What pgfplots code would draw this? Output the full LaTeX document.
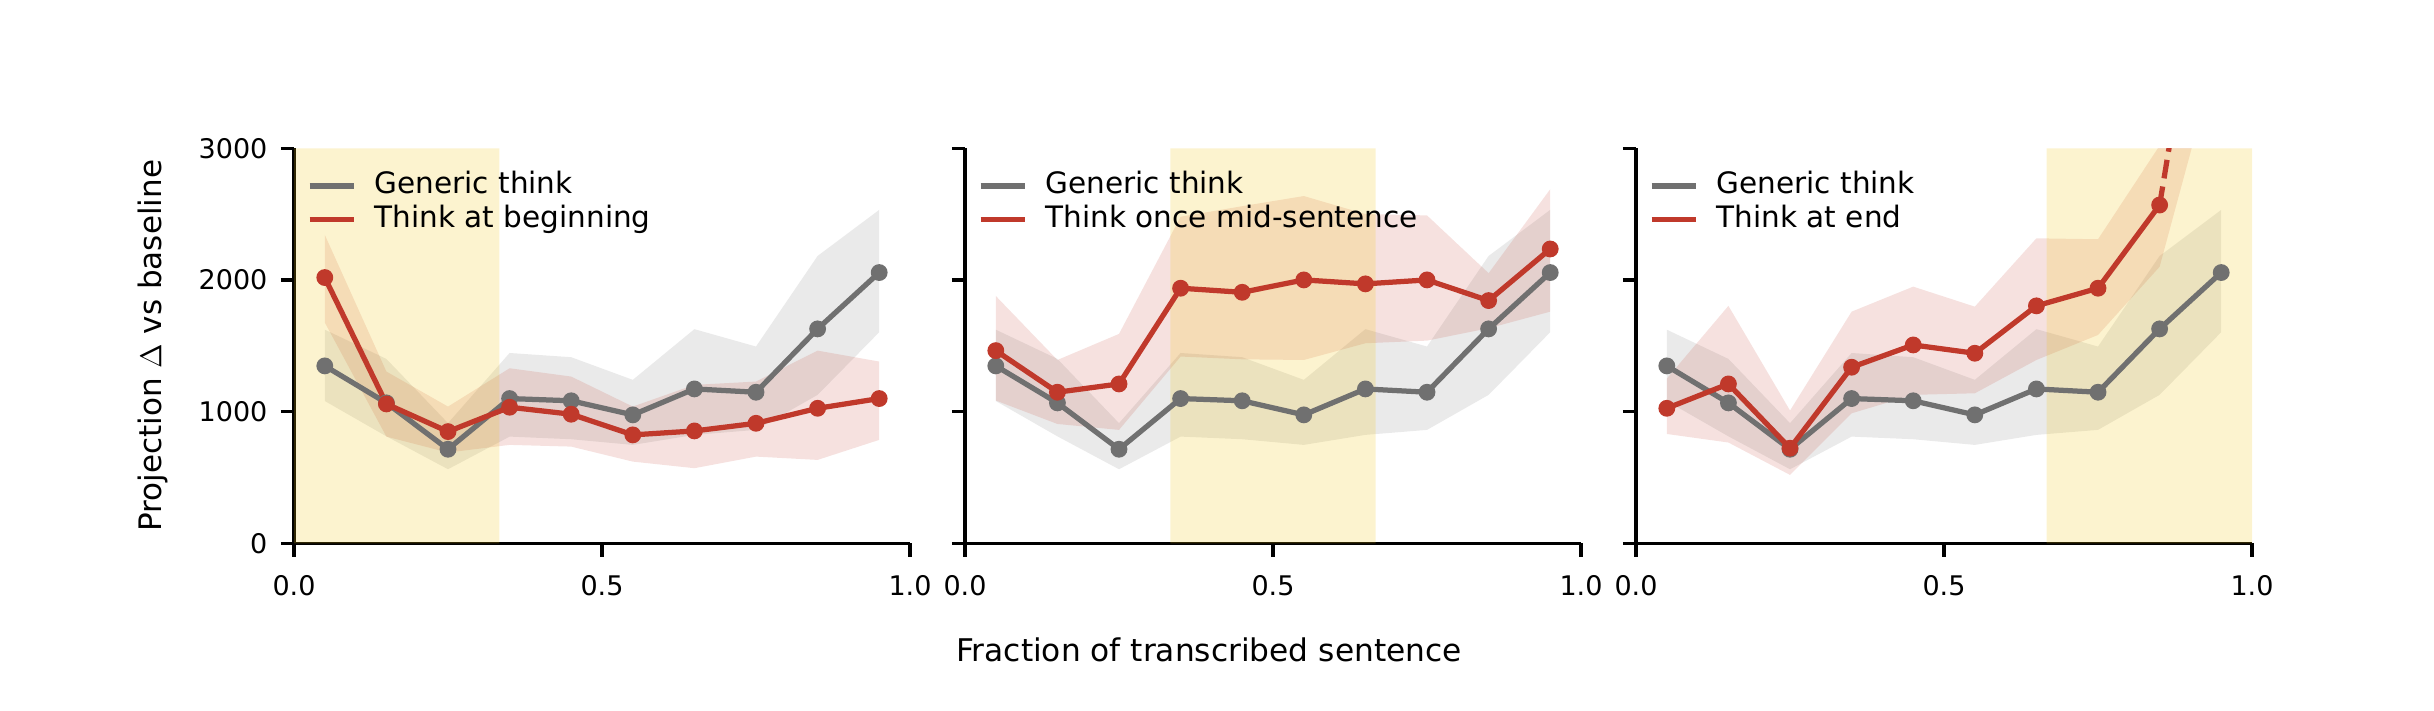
\documentclass[border=0pt]{standalone}
\usepackage{pgfplots}
\pgfplotsset{compat=1.18}
\usepackage{pgfplotstable}
\usepgfplotslibrary{fillbetween}
\usepackage{fontspec}
\setmainfont{DejaVu Sans}
\definecolor{gline}{HTML}{707070}
\definecolor{rline}{HTML}{C0392B}
\definecolor{ybg}{HTML}{F1C40F}

\pgfplotstableread{
x mean lo hi
0.05 1347 1080 1622
0.15 1066 812 1400
0.25 714 562 912
0.35 1099 810 1445
0.45 1082 790 1413
0.55 975 747 1241
0.65 1172 823 1626
0.75 1147 861 1494
0.85 1628 1127 2182
0.95 2056 1603 2532
}\gen

\pgfplotstableread{
x mean lo hi
0.05 2018 1676 2342
0.15 1058 810 1304
0.25 848 689 1038
0.35 1033 747 1329
0.45 980 734 1266
0.55 823 620 1038
0.65 853 570 1203
0.75 911 658 1228
0.85 1025 633 1463
0.95 1099 785 1380
}\beg

\pgfplotstableread{
x mean lo hi
0.05 1463 1084 1878
0.15 1147 906 1392
0.25 1210 861 1590
0.35 1937 1418 2480
0.45 1906 1397 2560
0.55 2000 1392 2637
0.65 1970 1519 2500
0.75 2000 1539 2490
0.85 1843 1633 2051
0.95 2235 1759 2689
}\mid

\pgfplotstableread{
x mean lo hi
0.05 1025 830 1250
0.15 1210 765 1803
0.25 722 519 1008
0.35 1337 987 1759
0.45 1506 1127 1949
0.55 1443 1139 1797
0.65 1803 1392 2316
0.75 1937 1582 2309
0.85 2569 2100 3020
0.95 5400 3830 7000
}\fin

\pgfplotsset{
  panel/.style={
    at={(#1pt,66.7pt)}, anchor=south west,
    scale only axis, width=246.4pt, height=158pt,
    xmin=0, xmax=1, ymin=0, ymax=3000,
    axis x line*=bottom, axis y line*=left,
    axis line style={line width=1.3pt, -},
    every tick/.style={line width=1.3pt, black},
    tick align=outside, major tick length=5.3pt,
    xtick={0,0.5,1}, ytick={0,1000,2000,3000},
    /pgf/number format/assume math mode=true,
    xticklabel style={yshift=-4.2pt, /pgf/number format/.cd, fixed, fixed zerofill, precision=1},
    yticklabel style={xshift=-1.8pt, /pgf/number format/1000 sep={}},
    tick label style={font=\fontsize{10.8}{13}\selectfont},
    legend cell align=left,
    legend style={at={(0,1)}, anchor=north west, xshift=5pt, yshift=-9.4pt,
      draw=none, fill=none, inner sep=0pt, row sep=2.5pt,
      font=\fontsize{11.8}{13.6}\selectfont,
      nodes={inner sep=0pt, text height=8.4pt, text depth=2.6pt},
      /tikz/every odd column/.append style={column sep=7.4pt}},
    clip=true,
  },
  band/.style={fill=#1, fill opacity=0.15, draw=none, forget plot},
  yband/.style={fill=ybg, fill opacity=0.2, draw=none, forget plot},
  mline/.style={color=#1, line width=2.1pt, mark=*, mark size=2.3pt, mark options={solid, fill=#1}},
}

\begin{document}
\begin{tikzpicture}
\path (0pt,0pt) rectangle (973.6pt,284pt);

% ---------- Panel 1 ----------
\begin{axis}[panel=117.6,
  legend image code/.code={\draw[#1, line width=2.1pt] (0pt,0pt) -- (17.6pt,0pt);},
  ylabel={Projection $\Delta$ vs baseline},
  ylabel style={at={(axis description cs:-0.229,0.5)}, anchor=center, font=\fontsize{12.4}{14}\selectfont},
]
\addplot[yband] coordinates {(0,0) (0.3333,0) (0.3333,3000) (0,3000)} \closedcycle;
\addplot[name path=gU, draw=none, forget plot] table[x=x,y=hi]{\gen};
\addplot[name path=gL, draw=none, forget plot] table[x=x,y=lo]{\gen};
\addplot[band=gline] fill between[of=gU and gL];
\addplot[name path=rU, draw=none, forget plot] table[x=x,y=hi]{\beg};
\addplot[name path=rL, draw=none, forget plot] table[x=x,y=lo]{\beg};
\addplot[band=rline] fill between[of=rU and rL];
\addplot[mline=gline] table[x=x,y=mean]{\gen};
\addlegendentry{Generic think}
\addplot[mline=rline] table[x=x,y=mean]{\beg};
\addlegendentry{Think at beginning}
\end{axis}

% ---------- Panel 2 ----------
\begin{axis}[panel=386,
  yticklabels={},
  legend image code/.code={\draw[#1, line width=2.1pt] (0pt,0pt) -- (17.6pt,0pt);},
  xlabel={Fraction of transcribed sentence},
  xlabel style={at={(axis description cs:0.396,-0.27)}, anchor=center, font=\fontsize{12.5}{14}\selectfont},
]
\addplot[yband] coordinates {(0.3333,0) (0.6667,0) (0.6667,3000) (0.3333,3000)} \closedcycle;
\addplot[name path=gU, draw=none, forget plot] table[x=x,y=hi]{\gen};
\addplot[name path=gL, draw=none, forget plot] table[x=x,y=lo]{\gen};
\addplot[band=gline] fill between[of=gU and gL];
\addplot[name path=rU, draw=none, forget plot] table[x=x,y=hi]{\mid};
\addplot[name path=rL, draw=none, forget plot] table[x=x,y=lo]{\mid};
\addplot[band=rline] fill between[of=rU and rL];
\addplot[mline=gline] table[x=x,y=mean]{\gen};
\addlegendentry{Generic think}
\addplot[mline=rline] table[x=x,y=mean]{\mid};
\addlegendentry{Think once mid-sentence}
\end{axis}

% ---------- Panel 3 ----------
\begin{axis}[panel=654.4,
  yticklabels={},
  legend image code/.code={\draw[#1, line width=2.1pt] (0pt,0pt) -- (17.6pt,0pt);},
]
\addplot[yband] coordinates {(0.6667,0) (1,0) (1,3000) (0.6667,3000)} \closedcycle;
\addplot[name path=gU, draw=none, forget plot] table[x=x,y=hi]{\gen};
\addplot[name path=gL, draw=none, forget plot] table[x=x,y=lo]{\gen};
\addplot[band=gline] fill between[of=gU and gL];
\addplot[name path=rU, draw=none, forget plot] table[x=x,y=hi]{\fin};
\addplot[name path=rL, draw=none, forget plot] table[x=x,y=lo]{\fin};
\addplot[band=rline] fill between[of=rU and rL];
\addplot[mline=gline] table[x=x,y=mean]{\gen};
\addlegendentry{Generic think}
\addplot[mline=rline, restrict x to domain=0:0.86] table[x=x,y=mean]{\fin};
\addlegendentry{Think at end}
\addplot[rline, line width=2.1pt, dash pattern=on 7.5pt off 3.3pt, forget plot, restrict x to domain=0.84:1] table[x=x,y=mean]{\fin};
\end{axis}
\end{tikzpicture}
\end{document}
